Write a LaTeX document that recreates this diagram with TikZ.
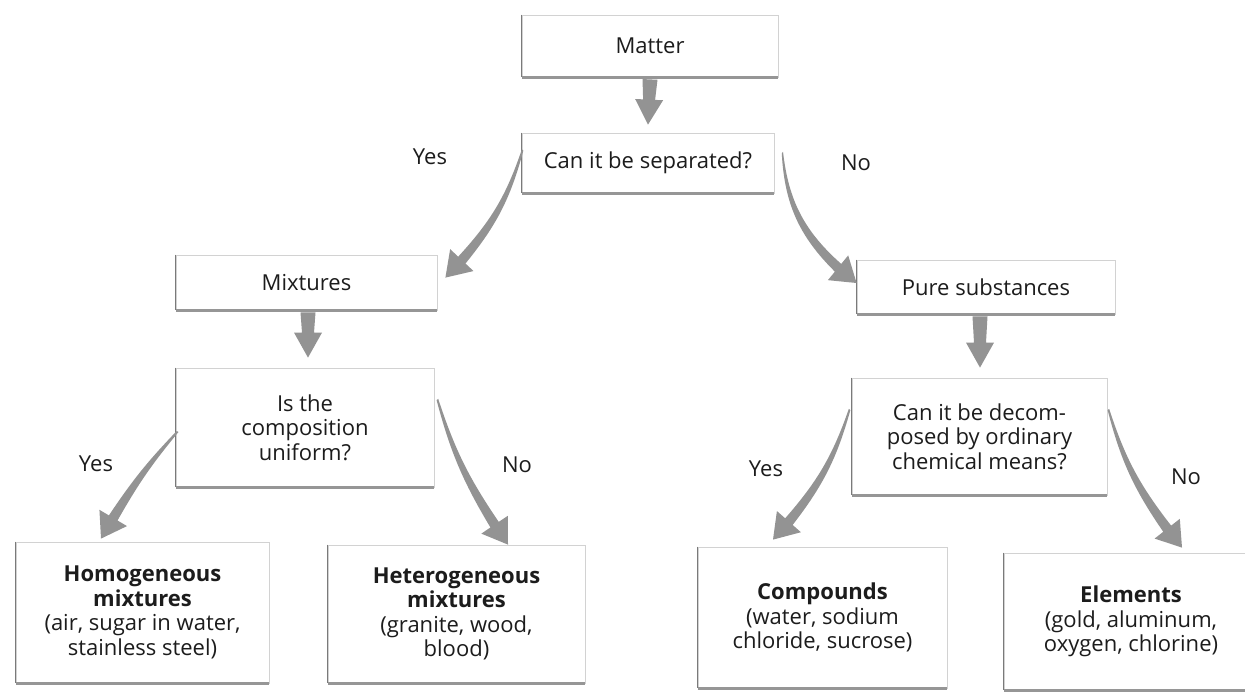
\documentclass[tikz,border=0pt]{standalone}
\usepackage{fontspec}
\setmainfont{Open Sans}
\usetikzlibrary{calc}
\definecolor{arrowc}{HTML}{939393}
\definecolor{txt}{HTML}{1C1C1C}
\definecolor{edgeL}{HTML}{7A7A7A}
\definecolor{edgeB}{HTML}{969696}
\definecolor{edgeT}{HTML}{D2D2D2}
% #1 start, #2 tip, #3 bend, #4 start half width, #5 stem half width, #6 head half width, #7 head length
\newcommand\taparrow[7]{%
  \fill[arrowc] let \p1=(#1), \p2=(#2),
      \n1={atan2(\y2-\y1,\x2-\x1)-(#3)} in
    ($(\p1)+(\n1+90:#4)$) to[bend left=#3]
    ($(\p2)+(\n1+180:#7)+(\n1+90:#5)$) --
    ($(\p2)+(\n1+180:#7)+(\n1+90:#6)$) --
    (\p2) --
    ($(\p2)+(\n1+180:#7)+(\n1-90:#6)$) --
    ($(\p2)+(\n1+180:#7)+(\n1-90:#5)$) to[bend right=#3]
    ($(\p1)+(\n1-90:#4)$) -- cycle;
}
\newcommand\straightarrow[2]{\taparrow{#1}{#2}{0}{7.5pt}{6pt}{14pt}{25pt}}
\newcommand\curvearrow[3]{\taparrow{#1}{#2}{#3}{1pt}{5pt}{16pt}{24pt}}
\tikzset{
  box/.style={draw=edgeT, line width=0.8pt, fill=white, align=center,
    text=txt, font=\fontsize{22}{24.5}\selectfont, inner sep=0pt},
  lbl/.style={text=txt, font=\fontsize{22}{24.5}\selectfont, inner sep=0pt},
  shadeL/.style={edgeL, line width=1.6pt},
  shadeB/.style={edgeB, line width=3.5pt},
}
\begin{document}
\begin{tikzpicture}[x=1pt,y=-1pt]
\useasboundingbox[fill=white] (0,0) rectangle (1245,694);
% boxes
\node[box, minimum width=256pt, minimum height=62pt] (matter) at (650,46) {Matter};
\node[box, minimum width=252pt, minimum height=60pt] (can) at (648,163) {Can it be separated?};
\node[box, minimum width=261pt, minimum height=55pt] (mix) at (306.5,282.5) {Mixtures};
\node[box, minimum width=258pt, minimum height=119pt] (comp) at (305,427.5) {Is the\\composition\\uniform?};
\node[box, minimum width=258pt, minimum height=54pt] (pure) at (986,287) {Pure substances};
\node[box, minimum width=255pt, minimum height=117pt] (dec) at (979.5,436.5) {Can it be decom-\\posed by ordinary\\chemical means?};
\node[box, minimum width=253pt, minimum height=141pt] (homog) at (142.5,612.5) {\textbf{Homogeneous}\\\textbf{mixtures}\\(air, sugar in water,\\stainless steel)};
\node[box, minimum width=257pt, minimum height=138pt] (heter) at (456.5,614) {\textbf{Heterogeneous}\\\textbf{mixtures}\\(granite, wood,\\blood)};
\node[box, minimum width=249pt, minimum height=141pt] (compd) at (822.5,617.5) {\textbf{Compounds}\\(water, sodium\\chloride, sucrose)};
\node[box, minimum width=254pt, minimum height=137pt] (elem) at (1131,621.5) {\textbf{Elements}\\(gold, aluminum,\\oxygen, chlorine)};
% box shading
\foreach \n in {matter,can,mix,comp,pure,dec,homog,heter,compd,elem}{
  \draw[shadeL] (\n.north west) -- (\n.south west);
  \draw[shadeB] (\n.south west) -- (\n.south east);
}
% labels
\node[lbl] (y1) at (430,157) {Yes};
\node[lbl] (n1) at (856,163) {No};
\node[lbl] (y2) at (96,464) {Yes};
\node[lbl] (n2) at (517,465) {No};
\node[lbl] (y3) at (766,469) {Yes};
\node[lbl] (n3) at (1186,477) {No};
% straight arrows
\straightarrow{$(matter.south)+(0,2)$}{$(can.north)+(0,-8)$}
\straightarrow{$(mix.south)+(1.5,2)$}{$(comp.north)+(3,-10)$}
\straightarrow{$(pure.south)+(-6,2)$}{$(dec.north)+(0.5,-10)$}
% curved arrows
\curvearrow{$(can.west)+(1,-13)$}{$(mix.north east)+(8,23)$}{12}
\curvearrow{$(can.north east)+(8,20)$}{$(pure.west)+(0,-4)$}{-21}
\curvearrow{$(comp.west)+(2,4)$}{$(homog.north)+(-41.5,-3)$}{-5}
\curvearrow{$(comp.east)+(3,-28)$}{$(heter.north)+(51.5,0)$}{-8}
\curvearrow{$(dec.west)+(-2,-27)$}{$(compd.north)+(-49.5,-7)$}{11}
\curvearrow{$(dec.east)+(1,-27)$}{$(elem.north)+(51,-5)$}{-10}
\end{tikzpicture}
\end{document}
